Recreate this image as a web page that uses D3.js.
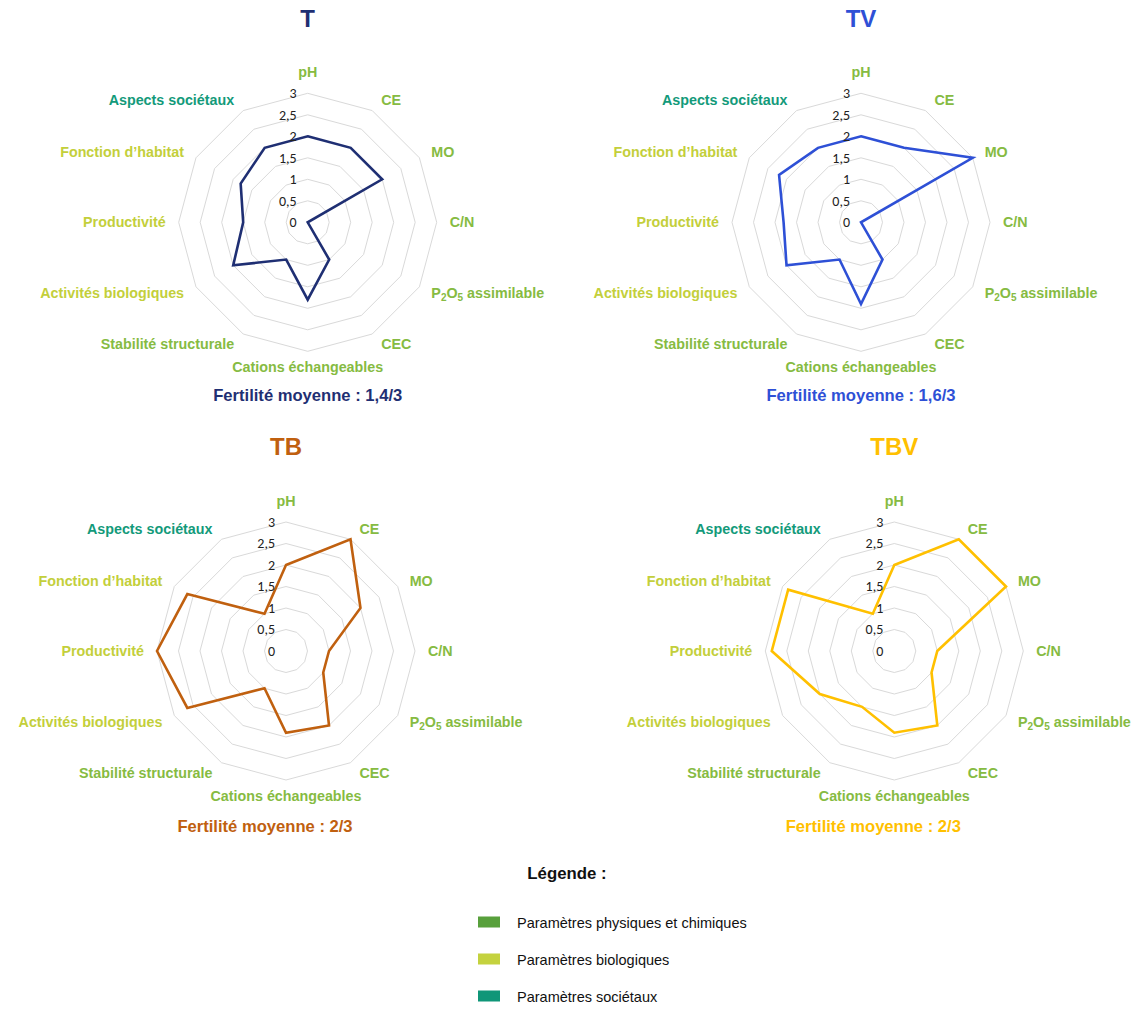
<!DOCTYPE html>
<html>
<head>
<meta charset="utf-8">
<script src="https://cdn.jsdelivr.net/npm/d3@7"></script>
<style>
  html, body { margin: 0; padding: 0; background: #ffffff; }
  svg { display: block; }
</style>
</head>
<body>
<svg id="chart" width="1137" height="1012"></svg>
<script>
// ---------- DATA ----------
const categories = ["pH", "CE", "MO", "C/N", "P2O5 assimilable", "CEC",
  "Cations échangeables", "Stabilité structurale", "Activités biologiques",
  "Productivité", "Fonction d’habitat", "Aspects sociétaux"];
// group of each category: 0 = physique/chimique, 1 = biologique, 2 = sociétal
const categoryGroups = [0, 0, 0, 0, 0, 0, 0, 0, 1, 1, 1, 2];
const seriesNames = ["T", "TV", "TB", "TBV"];
const valuesT   = [2, 2, 2, 0, 0, 1, 1.8, 1, 2, 1.5, 1.8, 2];
const valuesTV  = [2, 2, 3, 0, 0, 1, 1.9, 1, 2, 1.8, 2.2, 2];
const valuesTB  = [2, 3, 2, 1, 1, 2, 1.9, 1, 2.65, 3, 2.65, 1];
const valuesTBV = [2, 3, 3, 1, 1, 2, 1.9, 1.5, 2, 2.85, 2.85, 1];
const meanLabels = ["Fertilité moyenne : 1,4/3", "Fertilité moyenne : 1,6/3",
  "Fertilité moyenne : 2/3", "Fertilité moyenne : 2/3"];
const tickValues = [0, 0.5, 1, 1.5, 2, 2.5, 3];
const tickLabels = ["0", "0,5", "1", "1,5", "2", "2,5", "3"];
const legendTitle = "Légende :";
const legendLabels = ["Paramètres physiques et chimiques", "Paramètres biologiques", "Paramètres sociétaux"];

// ---------- STYLE / LAYOUT ----------
const seriesColors = ["#1f2f73", "#2e50d6", "#c0600f", "#ffc000"];
const groupTextColors = ["#86bb42", "#c3cf3b", "#139a7a"];
const groupSwatchColors = ["#58a03c", "#c4d23e", "#0f9678"];
const centers = [[307.7, 222.3], [861, 222.3], [286, 651], [894.3, 651]];
const footerDx = [0, 0, -21, -21];
const R = 129;
const font = "'Liberation Sans', Arial, Helvetica, sans-serif";

const allValues = [valuesT, valuesTV, valuesTB, valuesTBV];
const svg = d3.select("#chart");
svg.append("rect").attr("width", 1137).attr("height", 1012).attr("fill", "#fff");

const rScale = d3.scaleLinear().domain([0, 3]).range([0, R]);
const angle = d3.scalePoint().domain(d3.range(categories.length + 1)).range([0, 2 * Math.PI]);
const ang = i => angle(i);

const radial = d3.lineRadial()
  .angle((d, i) => ang(i))
  .radius(d => rScale(d))
  .curve(d3.curveLinearClosed);

allValues.forEach((vals, s) => {
  const [cx, cy] = centers[s];
  const g = svg.append("g").attr("transform", `translate(${cx},${cy})`);

  // grid rings (no ring at 0)
  tickValues.filter(t => t > 0).forEach(t => {
    g.append("path")
      .attr("d", radial(categories.map(() => t)))
      .attr("fill", "none")
      .attr("stroke", "#d9d9d9")
      .attr("stroke-width", 1);
  });

  // series polygon
  g.append("path")
    .attr("d", radial(vals))
    .attr("fill", "none")
    .attr("stroke", seriesColors[s])
    .attr("stroke-width", 2.6)
    .attr("stroke-linejoin", "miter");

  // tick labels
  tickValues.forEach((t, i) => {
    g.append("text")
      .attr("x", -11)
      .attr("y", -rScale(t))
      .attr("dy", "0.35em")
      .attr("text-anchor", "end")
      .attr("font-family", "Carlito, Calibri, 'Open Sans', " + font)
      .attr("font-size", 14)
      .attr("fill", "#222")
      .text(tickLabels[i]);
  });

  // category labels
  categories.forEach((c, i) => {
    const a = ang(i);
    const sn = Math.sin(a), cs = Math.cos(a);
    let x, anchor;
    if (Math.abs(sn) < 0.01) { x = 0; anchor = "middle"; }
    else if (sn > 0) { x = 5 + 137 * sn; anchor = "start"; }
    else { x = -5 + 137 * sn; anchor = "end"; }
    let y = -141 * cs;
    if (i === 0) y = -150;
    if (cs < -0.99) y = 145;
    const t = g.append("text")
      .attr("x", x)
      .attr("y", y)
      .attr("dy", "0.35em")
      .attr("text-anchor", anchor)
      .attr("font-family", font)
      .attr("font-weight", "bold")
      .attr("font-size", 14.3)
      .attr("fill", groupTextColors[categoryGroups[i]]);
    if (c.startsWith("P2O5")) {
      t.append("tspan").text("P");
      t.append("tspan").attr("font-size", 10).attr("dy", 3).text("2");
      t.append("tspan").attr("dy", -3).text("O");
      t.append("tspan").attr("font-size", 10).attr("dy", 3).text("5");
      t.append("tspan").attr("dy", -3).text(c.slice(4));
    } else {
      t.text(c);
    }
  });

  // title
  g.append("text")
    .attr("x", 0)
    .attr("y", -204)
    .attr("dy", "0.35em")
    .attr("text-anchor", "middle")
    .attr("font-family", font)
    .attr("font-weight", "bold")
    .attr("font-size", 24)
    .attr("fill", seriesColors[s])
    .text(seriesNames[s]);

  // footer
  g.append("text")
    .attr("x", footerDx[s])
    .attr("y", s < 2 ? 173 : 175)
    .attr("dy", "0.35em")
    .attr("text-anchor", "middle")
    .attr("font-family", font)
    .attr("font-weight", "bold")
    .attr("font-size", 16.6)
    .attr("fill", seriesColors[s])
    .text(meanLabels[s]);
});

// legend
svg.append("text")
  .attr("x", 567).attr("y", 873).attr("dy", "0.35em")
  .attr("text-anchor", "middle")
  .attr("font-family", font).attr("font-weight", "bold").attr("font-size", 16.8)
  .attr("fill", "#111")
  .text(legendTitle);

const legY = d3.scaleLinear().domain([0, 2]).range([922, 996]);
legendLabels.forEach((l, i) => {
  svg.append("rect")
    .attr("x", 478).attr("y", legY(i) - 5.5)
    .attr("width", 22).attr("height", 11)
    .attr("fill", groupSwatchColors[i]);
  svg.append("text")
    .attr("x", 517).attr("y", legY(i) + 1).attr("dy", "0.35em")
    .attr("font-family", font).attr("font-size", 14.5)
    .attr("fill", "#111")
    .text(l);
});
</script>
</body>
</html>
